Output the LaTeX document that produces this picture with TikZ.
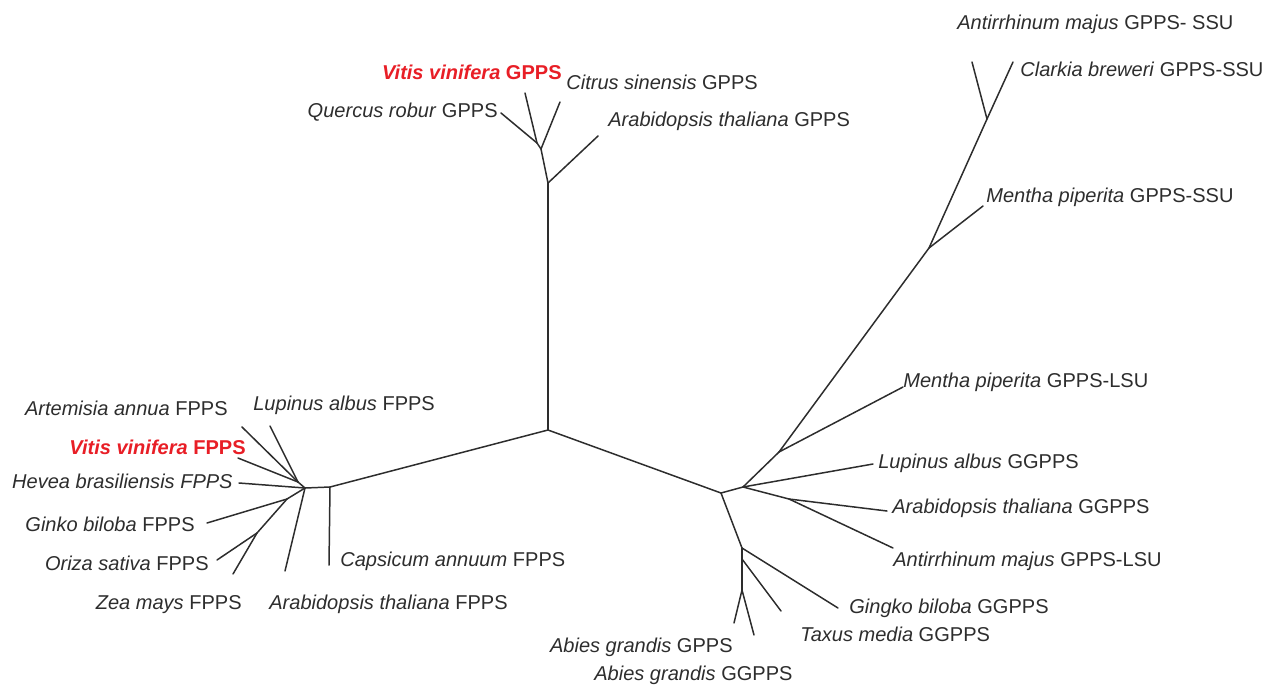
\documentclass[tikz,border=0pt]{standalone}
\usepackage{fontspec}
\setmainfont{Liberation Sans}

\definecolor{treegray}{RGB}{45,45,45}
\definecolor{vitisred}{RGB}{232,30,38}

\tikzset{
	branch/.style={draw=treegray, line width=0.85pt, line cap=round},
	taxon/.style={inner sep=0pt, text=treegray, font=\fontsize{11.4}{13}\selectfont},
	vitis/.style={taxon, text=vitisred, font=\fontsize{11.4}{13}\selectfont\bfseries}
}

\begin{document}
\begin{tikzpicture}[x=0.02cm, y=-0.02cm]
			\useasboundingbox (0,0) rectangle (1275,684);

			% inner nodes
			\coordinate (root) at (548,430);
			\coordinate (topa) at (548,183);
			\coordinate (topb) at (541,149);
			\coordinate (topc) at (537,143);
			\coordinate (lefta) at (330,487);
			\coordinate (leftb) at (305,488);
			\coordinate (leftc) at (298,482);
			\coordinate (leftd) at (287,499);
			\coordinate (lefte) at (257,533);
			\coordinate (righta) at (721,493);
			\coordinate (rightb) at (743,487);
			\coordinate (rightc) at (779,452);
			\coordinate (rightd) at (929,248);
			\coordinate (righte) at (987,119);
			\coordinate (rightf) at (789,499);
			\coordinate (rightg) at (742,548);
			\coordinate (righth) at (742,559);
			\coordinate (righti) at (742,590);

			% tips
			\coordinate (arabgpps) at (598,136);
			\coordinate (citrus) at (560,102);
			\coordinate (quercus) at (501,113);
			\coordinate (vitisgpps) at (525,93);
			\coordinate (capsicum) at (329,565);
			\coordinate (arabfpps) at (285,571);
			\coordinate (artemisia) at (242,427);
			\coordinate (lupfpps) at (270,426);
			\coordinate (vitisfpps) at (238,458);
			\coordinate (hevea) at (239,483);
			\coordinate (ginko) at (207,523);
			\coordinate (oriza) at (217,560);
			\coordinate (zea) at (233,574);
			\coordinate (antssu) at (972,62);
			\coordinate (clarkia) at (1013,62);
			\coordinate (menssu) at (983,206);
			\coordinate (menlsu) at (903,387);
			\coordinate (lupggpps) at (873,464);
			\coordinate (arabggpps) at (887,511);
			\coordinate (antlsu) at (893,548);
			\coordinate (gingko) at (838,608);
			\coordinate (taxus) at (781,611);
			\coordinate (abiesgpps) at (734,623);
			\coordinate (abiesggpps) at (754,635);

			\path[branch]
			(root) edge (topa)
			(topa) edge (arabgpps)
			(topa) edge (topb)
			(topb) edge (citrus)
			(topb) edge (topc)
			(topc) edge (quercus)
			(topc) edge (vitisgpps)
			(root) edge (lefta)
			(lefta) edge (capsicum)
			(lefta) edge (leftb)
			(leftb) edge (arabfpps)
			(leftb) edge (hevea)
			(leftb) edge (leftc)
			(leftc) edge (artemisia)
			(leftc) edge (lupfpps)
			(leftc) edge (vitisfpps)
			(leftb) edge (leftd)
			(leftd) edge (ginko)
			(leftd) edge (lefte)
			(lefte) edge (oriza)
			(lefte) edge (zea)
			(root) edge (righta)
			(righta) edge (rightb)
			(rightb) edge (rightc)
			(rightc) edge (menlsu)
			(rightc) edge (rightd)
			(rightd) edge (menssu)
			(rightd) edge (righte)
			(righte) edge (antssu)
			(righte) edge (clarkia)
			(rightb) edge (lupggpps)
			(rightb) edge (rightf)
			(rightf) edge (arabggpps)
			(rightf) edge (antlsu)
			(righta) edge (rightg)
			(rightg) edge (gingko)
			(rightg) edge (righti)
			(righth) edge (taxus)
			(righti) edge (abiesgpps)
			(righti) edge (abiesggpps);

			% labels
			\node[vitis, anchor=base east] (vitisgppslabel) at (562,79) {\textit{Vitis vinifera} GPPS};
			\node[taxon, anchor=base west] (citruslabel) at (566,89) {\textit{Citrus sinensis} GPPS};
			\node[taxon, anchor=base east] (quercuslabel) at (498,117) {\textit{Quercus robur} GPPS};
			\node[taxon, anchor=base west] (arabgppslabel) at (608,126) {\textit{Arabidopsis thaliana} GPPS};

			\node[taxon, anchor=base east] (artemisialabel) at (228,415) {\textit{Artemisia annua} FPPS};
			\node[taxon, anchor=base west] (lupfppslabel) at (253,410) {\textit{Lupinus albus} FPPS};
			\node[vitis, anchor=base east] (vitisfppslabel) at (246,454) {\textit{Vitis vinifera} FPPS};
			\node[taxon, anchor=base east] (hevealabel) at (233,488) {\textit{Hevea brasiliensis FPPS}};
			\node[taxon, anchor=base east] (ginkolabel) at (195,531) {\textit{Ginko biloba} FPPS};
			\node[taxon, anchor=base east] (orizalabel) at (209,570) {\textit{Oriza sativa} FPPS};
			\node[taxon, anchor=base east] (zealabel) at (242,609) {\textit{Zea mays} FPPS};
			\node[taxon, anchor=base west] (arabfppslabel) at (269,609) {\textit{Arabidopsis thaliana} FPPS};
			\node[taxon, anchor=base west] (capsicumlabel) at (340,566) {\textit{Capsicum annuum} FPPS};

			\node[taxon, anchor=base west] (antssulabel) at (957,29) {\textit{Antirrhinum majus} GPPS- SSU};
			\node[taxon, anchor=base west] (clarkialabel) at (1020,76) {\textit{Clarkia breweri} GPPS-SSU};
			\node[taxon, anchor=base west] (menssulabel) at (986,202) {\textit{Mentha piperita} GPPS-SSU};
			\node[taxon, anchor=base west] (menlsulabel) at (903,387) {\textit{Mentha piperita} GPPS-LSU};
			\node[taxon, anchor=base west] (lupggppslabel) at (878,468) {\textit{Lupinus albus} GGPPS};
			\node[taxon, anchor=base west] (arabggppslabel) at (892,513) {\textit{Arabidopsis thaliana} GGPPS};
			\node[taxon, anchor=base west] (antlsulabel) at (893,566) {\textit{Antirrhinum majus} GPPS-LSU};
			\node[taxon, anchor=base west] (gingkolabel) at (849,613) {\textit{Gingko biloba} GGPPS};
			\node[taxon, anchor=base west] (taxuslabel) at (800,641) {\textit{Taxus media} GGPPS};
			\node[taxon, anchor=base east] (abiesgppslabel) at (733,652) {\textit{Abies grandis} GPPS};
			\node[taxon, anchor=base west] (abiesggppslabel) at (594,680) {\textit{Abies grandis} GGPPS};
		\end{tikzpicture}
\end{document}
